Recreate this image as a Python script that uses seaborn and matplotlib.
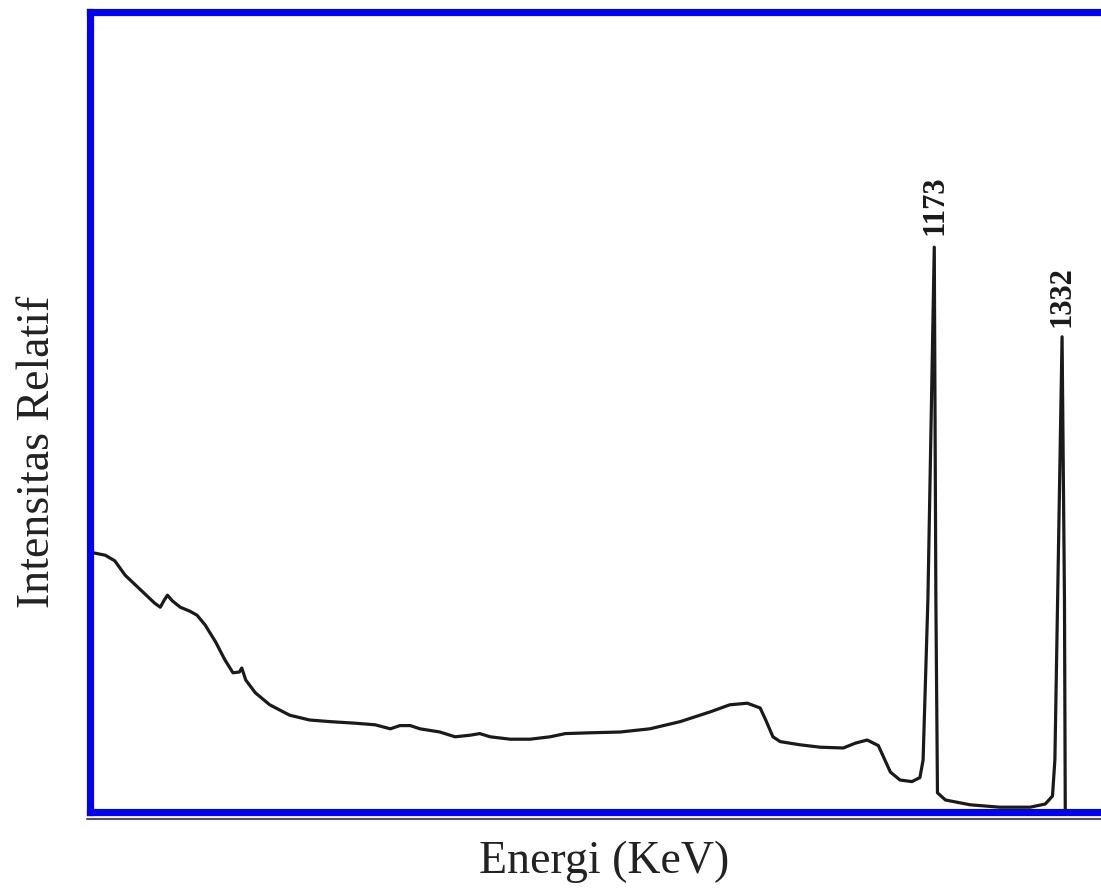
import numpy as np
import pandas as pd
import seaborn as sns
import matplotlib.pyplot as plt
from matplotlib.lines import Line2D

# Co-60 gamma spectrum (energy in keV, relative intensity 0-100)
energy = [119, 134, 146, 159, 178, 196, 203, 208, 212, 218, 228, 240, 249, 259, 272,
          284, 294, 302, 305, 310, 322, 340, 365, 390, 415, 447, 472, 491, 503, 516,
          528, 553, 572, 591, 603, 616, 641, 666, 691, 710, 741, 779, 816, 854, 891,
          916, 938, 954, 961, 970, 979, 1004, 1029, 1058, 1073, 1088, 1102, 1117, 1129,
          1144, 1154, 1158, 1164, 1172, 1174, 1176, 1186, 1217, 1254, 1292, 1311, 1320,
          1323, 1332, 1335, 1336, 1392]
intensity = [32.4, 32.1, 31.4, 29.6, 27.8, 26.1, 25.6, 26.5, 27.1, 26.4, 25.6, 25.1, 24.6,
             23.4, 21.3, 19.0, 17.4, 17.5, 18.0, 16.5, 14.9, 13.4, 12.1, 11.5, 11.3, 11.1,
             10.9, 10.4, 10.8, 10.8, 10.4, 10.0, 9.4, 9.6, 9.8, 9.4, 9.1, 9.1, 9.4, 9.8,
             9.9, 10.0, 10.4, 11.3, 12.5, 13.4, 13.6, 13.0, 11.5, 9.4, 8.8, 8.4, 8.1, 8.0,
             8.6, 9.0, 8.3, 5.0, 4.0, 3.8, 4.3, 6.5, 26.5, 70.6, 26.5, 2.4, 1.5, 0.9, 0.6,
             0.6, 1.0, 2.0, 6.5, 59.4, 26.5, 0.0, -0.3]

peak_energy = [1173, 1332]
peak_label = ["1173", "1332"]
peak_label_base = [72.1, 60.6]

df = pd.DataFrame({"energy": energy, "intensity": intensity})

sns.set_style("white")
plt.rcParams["font.family"] = ["Liberation Serif", "DejaVu Serif"]

fig = plt.figure(figsize=(11.01, 8.93), dpi=100)
ax = fig.add_axes([90 / 1101, 1 - 812 / 893, 1020 / 1101, 800 / 893])

sns.lineplot(data=df, x="energy", y="intensity", sort=False, estimator=None,
             color="#1a1a1a", linewidth=2.3, ax=ax)
for ln in ax.lines:
    ln.set_solid_joinstyle("round")
    ln.set_solid_capstyle("round")

for e, lab, base in zip(peak_energy, peak_label, peak_label_base):
    ax.text(e, base, lab, rotation=90, ha="center", va="bottom",
            fontsize=22, fontweight="bold", color="#1a1a1a")

ax.set_xlim(115, 1392)
ax.set_ylim(0, 100)
ax.set_xticks([])
ax.set_yticks([])
ax.set_xlabel("")
ax.set_ylabel("")
for s in ax.spines.values():
    s.set_color("#0000ff")
    s.set_linewidth(5.2)
    s.set_zorder(5)

# faint original axis line just under the frame
fig.add_artist(Line2D([87 / 1101, 1.0], [1 - 818.5 / 893] * 2, color="#555555",
                      linewidth=1.5, transform=fig.transFigure))

fig.text(38 / 1101, 1 - 452 / 893, "Intensitas Relatif", rotation=90,
         ha="center", va="center", fontsize=33, color="#222222")
fig.text(604 / 1101, 1 - 862 / 893, "Energi (KeV)",
         ha="center", va="center", fontsize=33, color="#222222")

fig.savefig("out.png", dpi=100)
